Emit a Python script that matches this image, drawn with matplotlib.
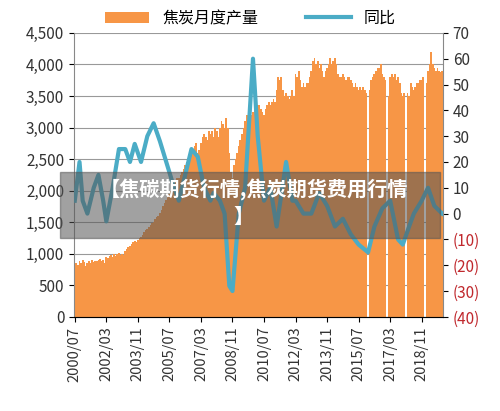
import numpy as np
import matplotlib
matplotlib.use("Agg")
import matplotlib.pyplot as plt
from matplotlib.patches import Rectangle

plt.rcParams['font.family'] = ['Noto Sans CJK SC', 'DejaVu Sans']
nan = np.nan
prod = [800,850,820,880,860,900,
 870,800,850,880,860,900,870,890,880,900,920,880,
 900,860,950,930,960,980,950,990,970,1000,1020,980,
 1000,980,1050,1080,1100,1120,1150,1180,1200,1180,1220,1250,
 1260,1300,1350,1380,1400,1420,1450,1480,1500,1550,1580,1600,
 1650,1700,1750,1800,1850,1900,1950,2000,2050,2100,2150,2200,
 2200,2250,2300,2350,2400,2450,2500,2550,2600,2650,2700,2750,
 2600,2650,2750,2850,2900,2850,2800,2950,2900,2950,2850,3000,
 2950,2850,3000,3100,3050,3000,3150,3000,2600,2300,2200,2400,
 2500,2600,2700,2800,2900,3000,3100,3200,3150,3100,3200,3250,
 3300,3150,3350,3350,3300,3250,3200,3300,3350,3400,3350,3400,
 3450,3400,3600,3800,3750,3800,3600,3500,3550,3500,3450,3500,
 3600,3500,3850,3800,3900,3750,3650,3700,3650,3700,3700,3800,
 3900,4050,4100,4000,4050,3950,4000,3900,3800,3900,3950,4000,
 4100,4000,4050,4100,4000,3850,3800,3800,3850,3800,3750,3800,
 3800,3750,3700,3650,3700,3650,3600,3650,3600,3650,3600,3550,
 nan,3600,3750,3800,3850,3900,3950,3950,4000,3850,3800,3750,
 nan,3500,3800,3850,3800,3850,3750,3800,3700,3550,3500,3550,
 nan,3550,3500,3700,3650,3600,3650,3700,3700,3750,3750,3800,
 nan,3700,3900,4000,4200,4000,3950,3900,3950,3900,3880,3900]
yoy_m = [0,3,5,8,12,15,18,20,24,28,32,35,38,42,46,50,54,58,62,66,70,74,78,82,86,88,92,95,98,100,104,108,113,116,120,124,128,134,138,140,145,150,155,160,165,170,175,180,186,190,195,200,205,208,212,215,220,224,228,233]
yoy_v = [5,20,5,0,10,15,5,-3,10,25,25,20,27,20,30,35,28,20,12,5,15,25,22,10,5,8,5,0,-28,-30,0,10,60,30,5,10,-5,20,5,5,0,0,8,3,-5,-2,-8,-12,-15,-5,2,5,-10,-12,-5,0,5,10,3,0]
xlabels = ['2000/07','2002/03','2003/11','2005/07','2007/03','2008/11','2010/07','2012/03','2013/11','2015/07','2017/03','2018/11']

fig = plt.figure(figsize=(5,4.11), dpi=100)
ax = fig.add_axes([0.148,0.229,0.738,0.691])
x = np.arange(len(prod))
ax.bar(x, prod, width=1.15, color='#F79646', linewidth=0, label='焦炭月度产量', zorder=2)
ax.set_ylim(0,4500)
ax.set_yticks(range(0,4501,500))
ax.set_yticklabels([f'{v:,}' for v in range(0,4501,500)], fontsize=11, color='#333333')
ax.yaxis.grid(True, color='#999999', lw=0.8, zorder=0)
ax.set_axisbelow(True)
ax.set_xlim(-0.5, len(prod)-0.5)
ax.set_xticks(np.arange(len(xlabels))*20)
ax.set_xticklabels(xlabels, rotation=90, fontsize=10.5, color='#333333')
for s in ['top','right']:
    ax.spines[s].set_visible(False)
ax.spines['left'].set_color('#888888'); ax.spines['bottom'].set_color('#888888')
ax2 = ax.twinx()
ax2.plot(yoy_m, yoy_v, color='#4BACC6', lw=3, label='同比', zorder=3)
ax2.set_ylim(-40,70)
ax2.set_yticks(range(-40,71,10))
ax2.set_yticklabels([f'({-v})' if v<0 else str(v) for v in range(-40,71,10)], fontsize=11)
for t,v in zip(ax2.get_yticklabels(), range(-40,71,10)):
    t.set_color('#C0282D' if v<0 else '#333333')
for s in ['top','left']:
    ax2.spines[s].set_visible(False)
ax2.spines['right'].set_color('#888888')
h1,l1 = ax.get_legend_handles_labels(); h2,l2 = ax2.get_legend_handles_labels()
fig.legend(h1+h2, l1+l2, loc='center', bbox_to_anchor=(0.5,0.955), ncol=2, frameon=False, fontsize=11.5, handlelength=2.8, columnspacing=3)
fig.patches.append(Rectangle((60/500,(411-238)/411),380/500,66/411, transform=fig.transFigure, color='#555555', alpha=0.55, zorder=10))
fig.text(0.508, (411-190)/411, '【焦碳期货行情,焦炭期货费用行情', ha='center', va='center', color='white', fontsize=14.5, fontweight='bold', zorder=11)
fig.text(0.486, (411-216)/411, '】', ha='center', va='center', color='white', fontsize=14.5, fontweight='bold', zorder=11)
fig.savefig('out.png', dpi=100)
